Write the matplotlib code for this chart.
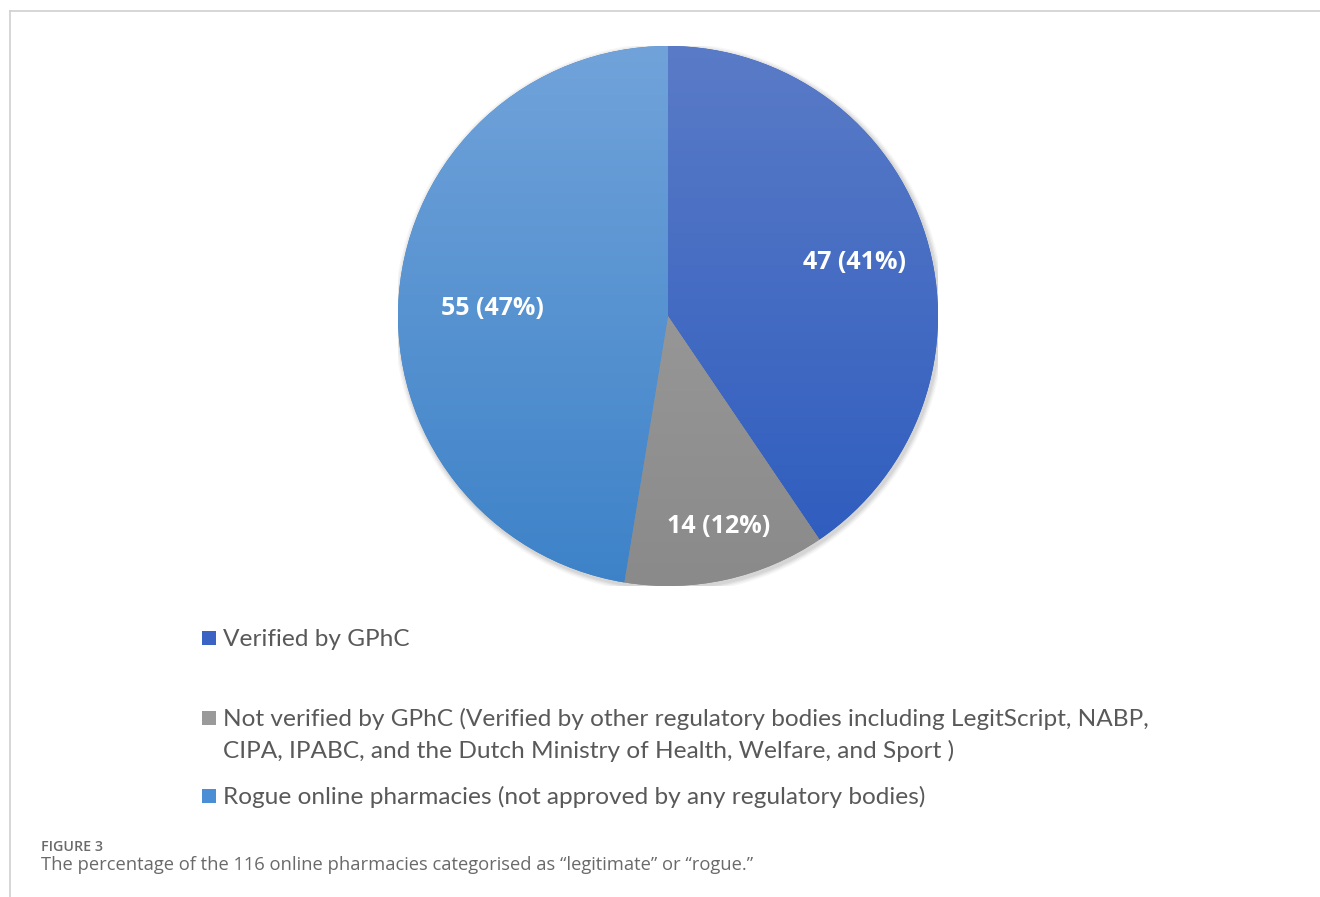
import numpy as np
import matplotlib
matplotlib.use("Agg")
import matplotlib.pyplot as plt
from matplotlib.colors import LinearSegmentedColormap
from matplotlib.patches import Rectangle, Circle

# data
categories = [["Verified by GPhC"],
              ["Not verified by GPhC (Verified by other regulatory bodies including LegitScript, NABP,",
               "CIPA, IPABC, and the Dutch Ministry of Health, Welfare, and Sport )"],
              ["Rogue online pharmacies (not approved by any regulatory bodies)"]]
counts = [47, 14, 55]
percents = [41, 12, 47]
# vertical gradient per slice: top colour -> bottom colour
grad_top = ["#5A7BC7", "#A3A3A3", "#71A3DA"]
grad_bottom = ["#2C5BBE", "#8A8A8A", "#3D82C8"]
legend_colors = ["#3A63C4", "#9A9A9A", "#4A8FD6"]

W, H = 1320, 897
fig = plt.figure(figsize=(W / 100, H / 100), dpi=100)
fig.patch.set_facecolor("white")

# frame lines (top and left)
fig.add_artist(plt.Line2D([9.5 / W, 1], [1 - 11.5 / H, 1 - 11.5 / H], color="#cfcfcf", lw=1.2))
fig.add_artist(plt.Line2D([9.5 / W, 9.5 / W], [0, 1 - 11.5 / H], color="#cfcfcf", lw=1.2))

# pie axes: centre (668, 316), radius 270 px
cx, cy, r = 668, 316, 270
ax = fig.add_axes([(cx - r) / W, 1 - (cy + r) / H, 2 * r / W, 2 * r / H])
ax.axis("off")

# soft shadow
for i, a in enumerate([0.05, 0.05, 0.04, 0.03]):
    ax.add_patch(Circle((0.006, -0.008), 1.0 + 0.005 * (i + 1), color="#000000", alpha=a, lw=0))

wedges, _ = ax.pie(counts, startangle=90, counterclock=False, radius=1.0,
                   colors=grad_bottom, wedgeprops=dict(linewidth=0))
ax.set_xlim(-1, 1)
ax.set_ylim(-1, 1)
ax.set_aspect("equal")

yy = np.linspace(1, 0, 256).reshape(-1, 1)
for w, ct, cb in zip(wedges, grad_top, grad_bottom):
    cmap = LinearSegmentedColormap.from_list("g", [cb, ct])
    im = ax.imshow(yy, cmap=cmap, extent=[-1, 1, -1, 1], aspect="auto", zorder=2,
                   vmin=0, vmax=1, interpolation="bilinear")
    im.set_clip_path(w)

# data labels (angle in degrees, radius as fraction)
label_pos = [(16.0, 0.72), (-76.5, 0.80), (177.6, 0.65)]
for (ang, rad), n, p in zip(label_pos, counts, percents):
    t = np.deg2rad(ang)
    ax.text(rad * np.cos(t), rad * np.sin(t), f"{n} ({p}%)", color="white",
            fontsize=18, fontweight="bold", family="Open Sans",
            ha="center", va="center", zorder=5)

# legend, drawn by hand (baselines in px)
leg_base = [[646], [726, 758], [804]]
for c, lines, bases in zip(legend_colors, categories, leg_base):
    fig.add_artist(Rectangle((202 / W, 1 - (bases[0] - 1) / H), 14 / W, 14 / H,
                             transform=fig.transFigure, color=c, lw=0))
    for txt, b in zip(lines, bases):
        fig.text(223 / W, 1 - b / H, txt, color="#595959", fontsize=17.6,
                 family="Lato", ha="left", va="baseline")

# caption
fig.text(41 / W, 1 - 851 / H, "FIGURE 3", color="#6a6a6a", fontsize=10.3,
         family="Open Sans", fontweight="semibold", ha="left", va="baseline")
fig.text(41 / W, 1 - 870 / H,
         "The percentage of the 116 online pharmacies categorised as \u201clegitimate\u201d or \u201crogue.\u201d",
         color="#6a6a6a", fontsize=13.2, family="Open Sans", ha="left", va="baseline")

fig.savefig("out.png", dpi=100, facecolor="white")
